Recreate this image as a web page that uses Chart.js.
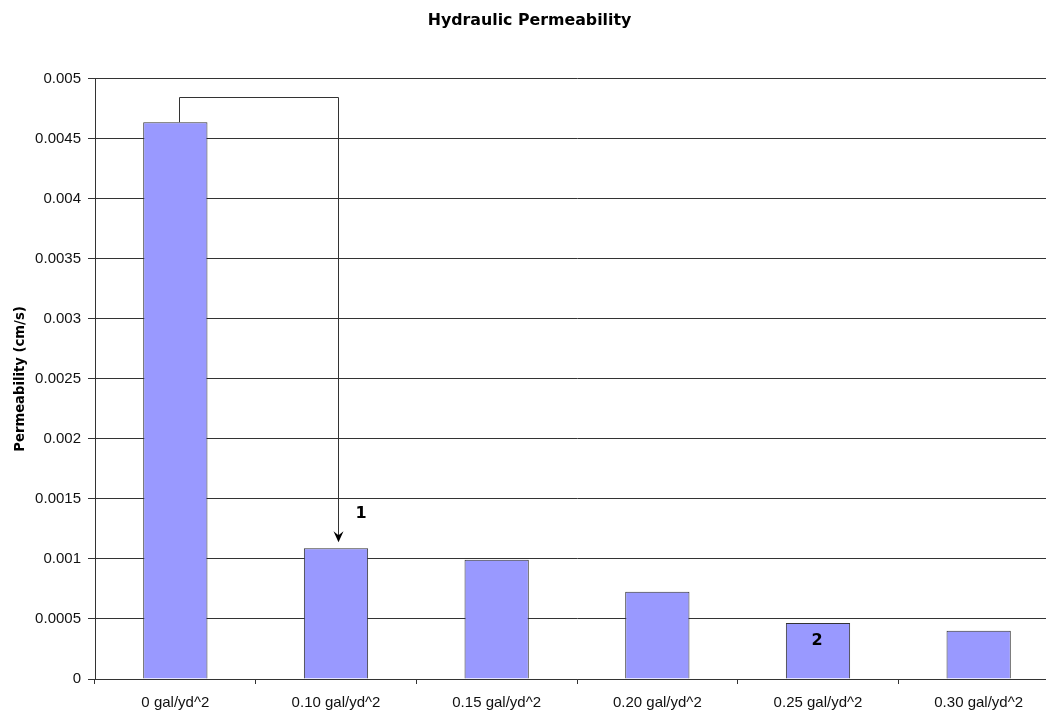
<!DOCTYPE html>
<html>
<head>
<meta charset="utf-8">
<title>Hydraulic Permeability</title>
<script src="https://cdn.jsdelivr.net/npm/chart.js@4/dist/chart.umd.min.js"></script>
<style>
  html, body { margin: 0; padding: 0; background: #fff; overflow: hidden; }
  #wrap { width: 1064px; height: 714px; }
</style>
</head>
<body>
<div id="wrap"><canvas id="chart" width="1064" height="714"></canvas></div>
<script>
// Application rates tested
const categories = ['0 gal/yd^2', '0.10 gal/yd^2', '0.15 gal/yd^2', '0.20 gal/yd^2', '0.25 gal/yd^2', '0.30 gal/yd^2'];
// Measured permeability (cm/s)
const permeability = [0.00464, 0.00109, 0.000994, 0.000727, 0.000466, 0.000402];
// Y axis range and step
const yTicks = { min: 0, max: 0.005, step: 0.0005 };
// Level of the connector drawn from the untreated bar to the 0.10 bar
const connectorLevel = 0.00485;
// Note markers: [bar index, text]
const notes = [[1, '1'], [4, '2']];

const FONT = '"Liberation Sans", Arial, sans-serif';
const BOLD_FONT = '"DejaVu Sans", Verdana, sans-serif';

const annotate = {
  id: 'annotate',
  afterDatasetsDraw(chart) {
    const ctx = chart.ctx;
    const meta = chart.getDatasetMeta(0);
    const y = chart.scales.y;
    const a = meta.data[0], b = meta.data[1];
    const xa = Math.round(a.x + 4) + 0.5;
    const xb = Math.round(b.x + 2) + 0.5;
    const yl = Math.round(y.getPixelForValue(connectorLevel)) + 0.5;
    const tip = b.y - 6;
    ctx.save();
    ctx.strokeStyle = '#333';
    ctx.lineWidth = 1;
    ctx.beginPath();
    ctx.moveTo(xa, a.y);
    ctx.lineTo(xa, yl);
    ctx.lineTo(xb, yl);
    ctx.lineTo(xb, tip - 4);
    ctx.stroke();
    ctx.fillStyle = '#000';
    ctx.beginPath();
    ctx.moveTo(xb, tip);
    ctx.lineTo(xb - 5, tip - 11);
    ctx.lineTo(xb, tip - 7);
    ctx.lineTo(xb + 5, tip - 11);
    ctx.closePath();
    ctx.fill();

    ctx.font = 'bold 16px "DejaVu Sans", sans-serif';
    ctx.textAlign = 'center';
    ctx.textBaseline = 'middle';
    notes.forEach(([i, t]) => {
      const bar = meta.data[i];
      if (i === 1) ctx.fillText(t, bar.x + 25, bar.y - 34);
      else ctx.fillText(t, bar.x - 1, bar.y + 18);
    });
    ctx.restore();
  }
};

new Chart(document.getElementById('chart'), {
  type: 'bar',
  data: {
    labels: categories,
    datasets: [{
      data: permeability,
      backgroundColor: '#9999ff',
      borderColor: '#333',
      borderWidth: 1,
      barPercentage: 0.4,
      categoryPercentage: 1
    }]
  },
  options: {
    responsive: false,
    animation: false,
    devicePixelRatio: 1,
    layout: { padding: { left: 0, right: 5, top: 0, bottom: 0 } },
    plugins: {
      legend: { display: false },
      tooltip: { enabled: false },
      title: {
        display: true,
        text: 'Hydraulic Permeability',
        color: '#000',
        font: { family: BOLD_FONT, size: 15.8, weight: 'bold', lineHeight: 1.2 },
        padding: { top: 11, bottom: 49 }
      }
    },
    scales: {
      x: {
        afterFit: s => { s.height = 35; },
        grid: { display: true, drawOnChartArea: false, drawTicks: true, tickLength: 5, color: '#333', offset: true },
        border: { color: '#333' },
        ticks: { color: '#111', font: { family: FONT, size: 15 }, padding: 10, maxRotation: 0 }
      },
      y: {
        min: yTicks.min,
        max: yTicks.max,
        afterFit: s => { s.width = 95; },
        title: {
          display: true,
          text: 'Permeability (cm/s)',
          color: '#000',
          font: { family: BOLD_FONT, size: 13.2, weight: 'bold', lineHeight: 1.2 },
          padding: { top: 13, bottom: 0 }
        },
        grid: { color: '#333', tickLength: 7 },
        border: { color: '#333' },
        ticks: {
          stepSize: yTicks.step,
          color: '#111',
          font: { family: FONT, size: 15 },
          padding: 7,
          callback: v => String(+v.toFixed(4))
        }
      }
    }
  },
  plugins: [annotate]
});
</script>
</body>
</html>
